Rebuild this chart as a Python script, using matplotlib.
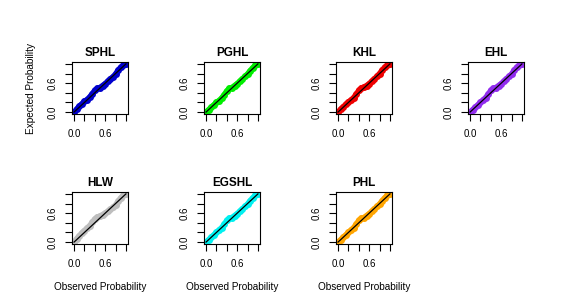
import numpy as np
import matplotlib
matplotlib.use("Agg")
import matplotlib.pyplot as plt

plt.rcParams['font.family'] = ['Liberation Sans', 'DejaVu Sans']

# panel names and colours (R-style palette)
names = ['SPHL', 'PGHL', 'KHL', 'EHL', 'HLW', 'EGSHL', 'PHL']
colors = ['#0000CD', '#00EE00', '#EE0000', '#912CEE', '#BEBEBE', '#00F0F0', '#FFA500']

# observed probabilities (x) shared by all panels
observed = [0.00, 0.05, 0.10, 0.15, 0.20, 0.25, 0.30, 0.35, 0.40, 0.45, 0.50,
            0.55, 0.60, 0.65, 0.70, 0.75, 0.80, 0.85, 0.90, 0.95, 1.00]

# expected probabilities
exp_sphl = [0.00, 0.06, 0.12, 0.17, 0.22, 0.26, 0.31, 0.38, 0.45, 0.49, 0.51,
            0.55, 0.59, 0.64, 0.69, 0.73, 0.79, 0.87, 0.93, 0.97, 1.00]
exp_pghl = [0.00, 0.05, 0.10, 0.15, 0.20, 0.24, 0.29, 0.36, 0.44, 0.49, 0.51,
            0.55, 0.59, 0.64, 0.69, 0.74, 0.79, 0.86, 0.92, 0.97, 1.00]
exp_khl = [0.00, 0.06, 0.11, 0.16, 0.21, 0.25, 0.30, 0.37, 0.45, 0.50, 0.52,
           0.55, 0.59, 0.64, 0.69, 0.74, 0.80, 0.87, 0.93, 0.97, 1.00]
exp_ehl = [0.00, 0.05, 0.10, 0.15, 0.20, 0.25, 0.30, 0.37, 0.45, 0.49, 0.51,
           0.55, 0.59, 0.64, 0.69, 0.74, 0.79, 0.87, 0.93, 0.97, 1.00]
exp_hlw = [0.00, 0.07, 0.13, 0.19, 0.24, 0.29, 0.34, 0.41, 0.48, 0.52, 0.54,
           0.57, 0.60, 0.64, 0.68, 0.72, 0.77, 0.85, 0.92, 0.97, 1.00]
exp_egshl = [0.00, 0.05, 0.10, 0.15, 0.20, 0.25, 0.30, 0.37, 0.45, 0.49, 0.51,
             0.55, 0.59, 0.64, 0.69, 0.74, 0.79, 0.86, 0.92, 0.97, 1.00]
exp_phl = [0.00, 0.05, 0.10, 0.15, 0.20, 0.25, 0.30, 0.37, 0.45, 0.49, 0.51,
           0.55, 0.59, 0.64, 0.69, 0.74, 0.79, 0.86, 0.92, 0.97, 1.00]
expected = [exp_sphl, exp_pghl, exp_khl, exp_ehl, exp_hlw, exp_egshl, exp_phl]

tick_pos = [0.0, 0.2, 0.4, 0.6, 0.8, 1.0]
tick_lab = ['0.0', '', '', '0.6', '', '']

W, H = 570, 305
fig = plt.figure(figsize=(W / 100, H / 100), dpi=100)

lefts = [72, 204, 336, 468]
tops = [62, 192]
bw, bh = 56, 52

for i, name in enumerate(names):
    r, c = divmod(i, 4)
    ax = fig.add_axes([lefts[c] / W, 1 - (tops[r] + bh) / H, bw / W, bh / H])
    ax.plot(observed, expected[i], color=colors[i], lw=4.0, solid_capstyle='round',
            solid_joinstyle='round', marker='o', ms=4.0, mec=colors[i], zorder=2)
    ax.plot([0, 1], [0, 1], color='black', lw=0.9, zorder=3)
    ax.set_xlim(-0.04, 1.04)
    ax.set_ylim(-0.04, 1.04)
    ax.set_xticks(tick_pos)
    ax.set_xticklabels(tick_lab)
    ax.set_yticks(tick_pos)
    ax.set_yticklabels(tick_lab, rotation=90, va='center')
    ax.tick_params(direction='out', length=5, width=0.8, labelsize=7, pad=5.5)
    for s in ax.spines.values():
        s.set_linewidth(0.8)
    ax.set_title(name, fontsize=8.5, fontweight='bold', pad=4.5)
    if r == 1:
        fig.text((lefts[c] + bw / 2) / W, 1 - 287 / H, 'Observed Probability',
                 ha='center', va='center', fontsize=7.2)

fig.text(31 / W, 1 - 88 / H, 'Expected Probability', rotation=90,
         ha='center', va='center', fontsize=7.2)

fig.savefig('out.png', dpi=100)
